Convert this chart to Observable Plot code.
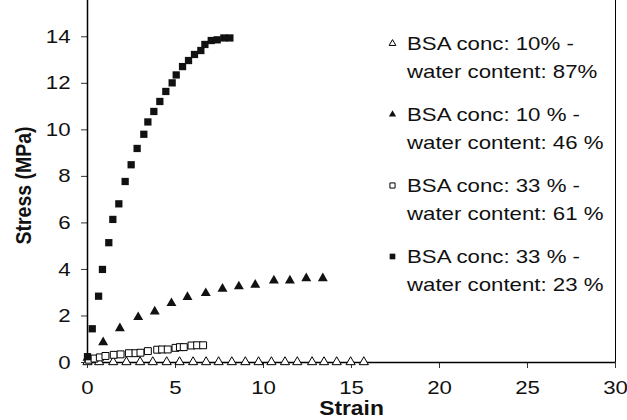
<!DOCTYPE html>
<html>
<head>
<meta charset="utf-8">
<script src="https://cdn.jsdelivr.net/npm/d3@7"></script>
<script src="https://cdn.jsdelivr.net/npm/@observablehq/plot@0.6"></script>
<style>
  html, body { margin: 0; padding: 0; background: white; }
</style>
</head>
<body>
<div id="chart"></div>
<script>
// Tick values
const xTicks = [0, 5, 10, 15, 20, 25, 30];
const yTicks = [0, 2, 4, 6, 8, 10, 12, 14];

// Series: BSA conc 10% - water content 87% (open triangles)
const s1Strain = [0, 0.66, 1.46, 2.21, 2.99, 3.71, 4.5, 5.23, 6.0, 6.74, 7.45, 8.2, 8.97, 9.72, 10.45, 11.22, 11.92, 12.76, 13.44, 14.16, 14.95, 15.7];
const s1Stress = [0.02, 0.02, 0.02, 0.02, 0.02, 0.02, 0.02, 0.02, 0.02, 0.02, 0.02, 0.02, 0.02, 0.02, 0.02, 0.02, 0.02, 0.02, 0.02, 0.02, 0.02, 0.02];

// Series: BSA conc 10% - water content 46% (filled triangles)
const s2Strain = [0, 0.89, 1.84, 2.88, 3.82, 4.77, 5.68, 6.72, 7.67, 8.6, 9.53, 10.59, 11.5, 12.43, 13.37];
const s2Stress = [0.2, 0.87, 1.47, 1.95, 2.19, 2.55, 2.81, 2.98, 3.17, 3.27, 3.34, 3.52, 3.52, 3.62, 3.62];

// Series: BSA conc 33% - water content 61% (open squares)
const s3Strain = [0.07, 0.4, 0.7, 1.02, 1.49, 1.88, 2.35, 2.73, 3.01, 3.43, 3.96, 4.24, 4.56, 5.0, 5.25, 5.47, 5.91, 6.23, 6.57];
const s3Stress = [0.12, 0.17, 0.22, 0.28, 0.33, 0.35, 0.4, 0.4, 0.42, 0.49, 0.55, 0.56, 0.56, 0.63, 0.66, 0.66, 0.73, 0.74, 0.74];

// Series: BSA conc 33% - water content 23% (filled squares)
const s4Strain = [0, 0.27, 0.63, 0.85, 1.21, 1.44, 1.78, 2.14, 2.48, 2.82, 3.2, 3.43, 3.77, 4.11, 4.45, 4.81, 5.04, 5.4, 5.74, 6.08, 6.44, 6.67, 7.03, 7.37, 7.75, 8.09];
const s4Stress = [0.25, 1.45, 2.85, 4.0, 5.15, 6.15, 6.82, 7.78, 8.5, 9.2, 9.81, 10.34, 10.79, 11.22, 11.65, 12.02, 12.36, 12.72, 12.98, 13.24, 13.41, 13.67, 13.84, 13.87, 13.95, 13.95];

const seriesLabels = [
  "BSA conc: 10% -\nwater content: 87%",
  "BSA conc: 10 % -\nwater content: 46 %",
  "BSA conc: 33 % -\nwater content: 61 %",
  "BSA conc: 33 % -\nwater content: 23 %"
];
const xLabel = "Strain";
const yLabel = "Stress (MPa)";

const zip = (xs, ys) => xs.map((x, i) => ({strain: x, stress: ys[i]}));
const dataSets = [zip(s1Strain, s1Stress), zip(s2Strain, s2Stress), zip(s3Strain, s3Stress), zip(s4Strain, s4Stress)];

const styles = [
  {symbol: "triangle", fill: "white", stroke: "black", r: 3.4, lr: 2.5},
  {symbol: "triangle", fill: "#111", stroke: "none", r: 3.7, lr: 2.7},
  {symbol: "square", fill: "white", stroke: "black", r: 3.9, lr: 2.9},
  {symbol: "square", fill: "#111", stroke: "none", r: 4.1, lr: 3.2}
];

const font = "'Liberation Sans', Arial, Helvetica, sans-serif";
const fs = 19;
const stretch = 1.17;

// legend layout (pixel offsets from the frame's top-left)
const legendMarkerDx = 305;
const legendTextDx = 319.5;
const legendRowStep = 71;
const legendFirstLine = 43;
const lineStep = 28;

const legendMarks = [];
seriesLabels.forEach((lab, i) => {
  const st = styles[i];
  legendMarks.push(Plot.dot([lab], {
    frameAnchor: "top-left", dx: legendMarkerDx, dy: legendFirstLine + i * legendRowStep,
    symbol: st.symbol, r: st.lr, fill: st.fill, stroke: st.stroke, strokeWidth: 1
  }));
  lab.split("\n").forEach((line, j) => {
    legendMarks.push(Plot.text([line], {
      frameAnchor: "top-left", dx: legendTextDx, dy: legendFirstLine + j * lineStep + i * legendRowStep,
      text: d => d, textAnchor: "start", lineAnchor: "middle",
      fontSize: fs, fill: "#111"
    }));
  });
});

const dotMarks = dataSets.map((d, i) => Plot.dot(d, {
  x: "strain", y: "stress",
  symbol: styles[i].symbol, r: styles[i].r,
  fill: styles[i].fill, stroke: styles[i].stroke, strokeWidth: 1
}));

const chart = Plot.plot({
  width: 627,
  height: 420,
  marginLeft: 87,
  marginRight: 12,
  marginTop: 0,
  marginBottom: 58,
  style: {fontFamily: font, fontSize: fs + "px", background: "white", color: "#111"},
  x: {domain: [0, 30]},
  y: {domain: [0, 15.56]},
  marks: [
    Plot.axisY(yTicks, {tickSize: 6, tickPadding: 11, fontSize: fs, label: null, stroke: "#333"}),
    Plot.axisX(xTicks, {tickSize: 6, tickPadding: 12, fontSize: fs, label: null, stroke: "#333"}),
    Plot.ruleX([0], {stroke: "black", strokeWidth: 1.5}),
    Plot.ruleX([30], {stroke: "black", strokeWidth: 1}),
    Plot.ruleY([0], {stroke: "black", strokeWidth: 1.3}),
    ...dotMarks,
    ...legendMarks,
    Plot.text([yLabel], {frameAnchor: "left", dx: -64, dy: 4, rotate: -90, text: d => d, className: "ylab",
      fontWeight: "bold", fontSize: 19.5, textAnchor: "middle", lineAnchor: "middle", fill: "#111"}),
    Plot.text([xLabel], {frameAnchor: "bottom", dy: 46, text: d => d,
      fontWeight: "bold", fontSize: 19.5, textAnchor: "middle", lineAnchor: "middle", fill: "#111"})
  ]
});

document.getElementById("chart").appendChild(chart);

// the reference's lettering is slightly wider than the font: stretch horizontally
chart.querySelectorAll("text").forEach(t => {
  if (t.closest(".ylab")) {
    const tr = t.getAttribute("transform") || "";
    t.setAttribute("transform", tr + ` scale(1, ${stretch})`);
    return;
  }
  const len = t.getComputedTextLength();
  if (len > 0) {
    t.setAttribute("textLength", (len * stretch).toFixed(2));
    t.setAttribute("lengthAdjust", "spacingAndGlyphs");
  }
});
</script>
</body>
</html>
